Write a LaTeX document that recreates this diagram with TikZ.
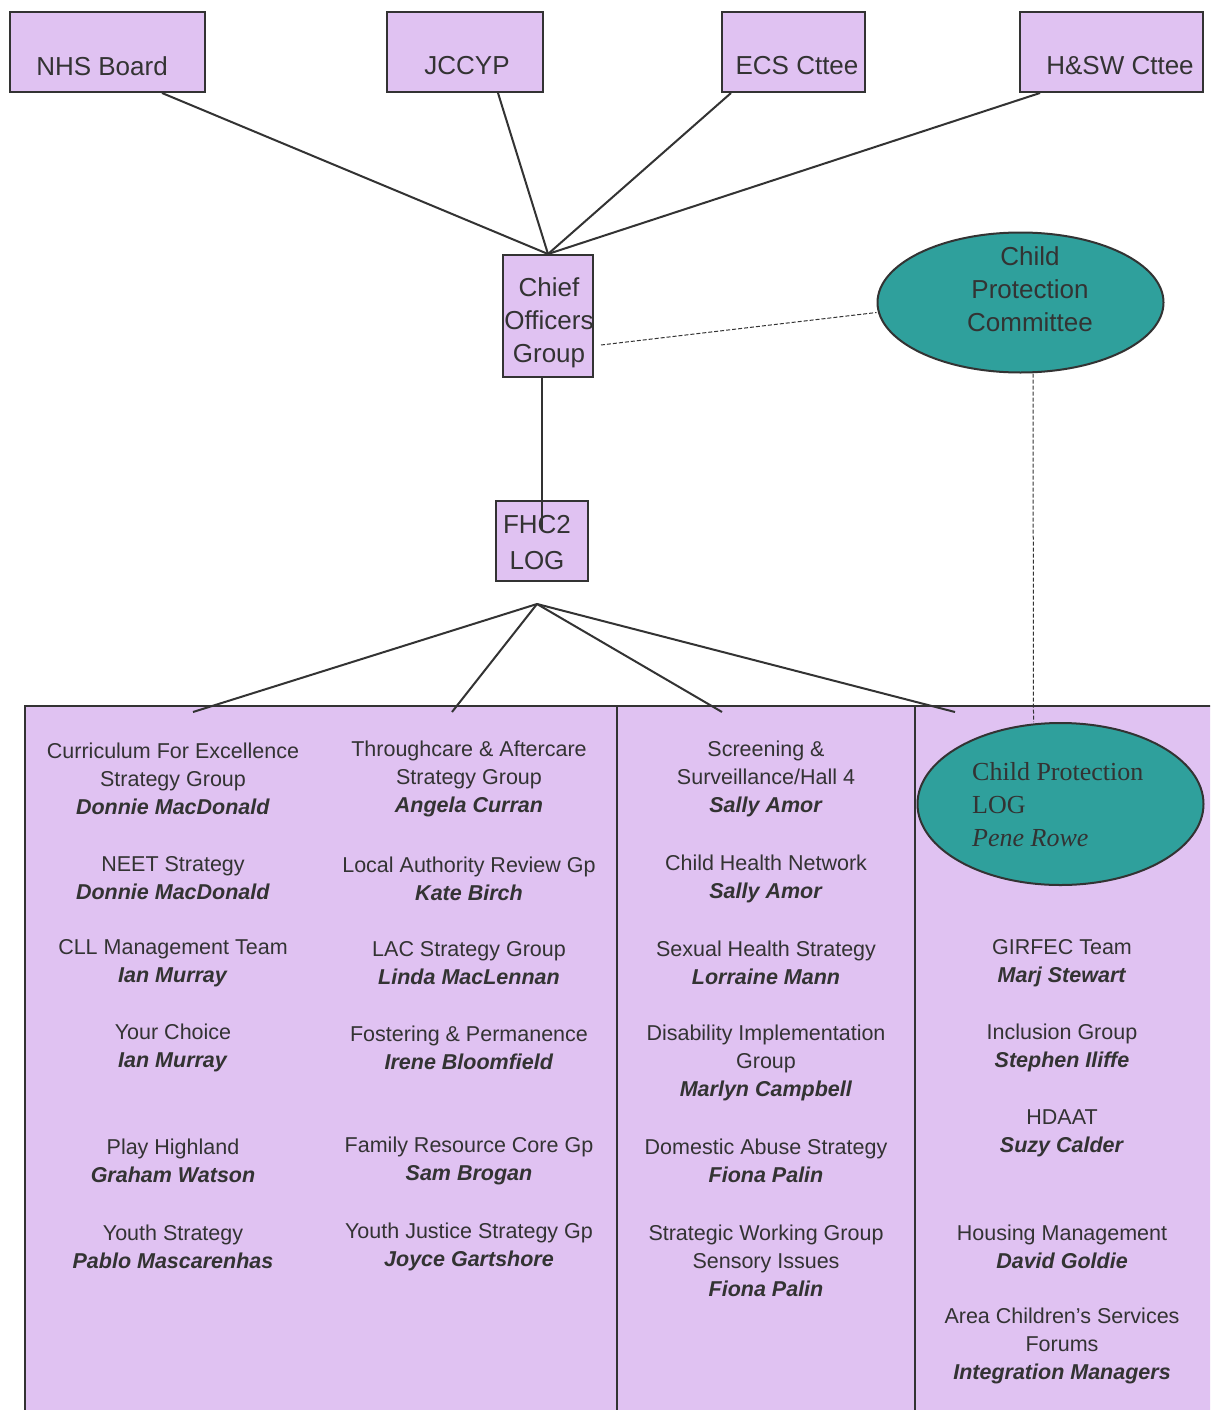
\documentclass[tikz,border=0pt]{standalone}
\usepackage{fontspec}
\setmainfont{Liberation Sans}
\newfontfamily\slabfont{Liberation Serif}
\usetikzlibrary{shapes.geometric}
\definecolor{lilac}{HTML}{E0C2F2}
\definecolor{tealfill}{HTML}{2FA09C}
\definecolor{ink}{HTML}{333333}
\newcommand\pname[1]{\textbf{\textit{#1}}}
\begin{document}
\begin{tikzpicture}[x=1pt,y=-1pt,
  boxst/.style={draw=ink, line width=2pt, fill=lilac, inner sep=0pt},
  lnk/.style={draw=ink, line width=2pt},
  dsh/.style={draw=ink, line width=1pt, dash pattern=on 4pt off 2pt},
  lbl/.style={text=ink, font=\fontsize{26}{33}\selectfont, align=center, inner sep=0pt},
  col/.style={text=ink, font=\fontsize{21.5}{28}\selectfont, align=center, inner sep=0pt},
  ov/.style={ellipse, draw=ink, line width=2pt, fill=tealfill, inner sep=0pt}]
\useasboundingbox (0,0) rectangle (1210,1410);
\clip (0,0) rectangle (1210,1410);
\fill[white] (0,0) rectangle (1210,1410);

% top boxes
\node[boxst, minimum width=195pt, minimum height=80pt] (nhs) at (107.5,52) {};
\node[lbl] (nhsT) at (102,66) {NHS Board};
\node[boxst, minimum width=156pt, minimum height=80pt] (jcc) at (465,52) {};
\node[lbl] (jccT) at (467,66) {JCCYP};
\node[boxst, minimum width=143pt, minimum height=80pt] (ecs) at (793.5,52) {};
\node[lbl] (ecsT) at (797,66) {ECS Cttee};
\node[boxst, minimum width=183pt, minimum height=80pt] (hsw) at (1111.5,52) {};
\node[lbl] (hswT) at (1120,66) {H\&SW Cttee};

% chief officers group
\node[boxst, minimum width=90pt, minimum height=122pt] (cog) at (548,316) {};
\node[lbl] (cogT) at (549,323) {Chief\\Officers\\Group};

% CPC ellipse
\node[ov, minimum width=286pt, minimum height=140pt] (cpc) at (1020.5,302.5) {};
\node[lbl] (cpcT) at (1030,289) {Child\\Protection\\Committee};

% FHC2
\node[boxst, minimum width=92pt, minimum height=80pt] (fhc) at (542,541) {};
\node[lbl, font=\fontsize{26}{36}\selectfont] (fhcT) at (537,543) {FHC2\\LOG};

% links top
\draw[lnk] ([xshift=54.5pt]nhs.south) -- (cog.north);
\draw[lnk] ([xshift=33pt]jcc.south) -- (cog.north);
\draw[lnk] ([xshift=-62.5pt]ecs.south) -- (cog.north);
\draw[lnk] ([xshift=-71.5pt]hsw.south) -- (cog.north);
\draw[lnk] ([xshift=-6pt]cog.south) -- ([yshift=-29pt]fhc.north);

% big panel
\draw[boxst] (25,706) rectangle (1230,1430);
\draw[lnk] (617,706) -- (617,1430);
\draw[lnk] (915,706) -- (915,1430);

% fan
\coordinate (fan) at (537,604);
\coordinate (f1) at (193,712);
\coordinate (f2) at (452,712);
\coordinate (f3) at (722,712);
\coordinate (f4) at (955,712);
\draw[lnk] (fan) -- (f1);
\draw[lnk] (fan) -- (f2);
\draw[lnk] (fan) -- (f3);
\draw[lnk] (fan) -- (f4);

% lower ellipse
\node[ov, minimum width=286pt, minimum height=162pt] (cpl) at (1060.5,804) {};
\node[text=ink, font=\slabfont\fontsize{26}{33}\selectfont, align=left, inner sep=0pt, anchor=west] (cplT) at (972,805) {Child Protection\\LOG\\\textit{Pene Rowe}};

% dashed links
\draw[dsh] ([xshift=7pt,yshift=-29pt]cog.east) -- ([yshift=-10pt]cpc.west);
\draw[dsh] ([xshift=12.5pt]cpc.south) -- ([xshift=-27pt]cpl.north);

% column 1
\node[col] (a1) at (173,779) {Curriculum For Excellence\\Strategy Group\\\pname{Donnie MacDonald}};
\node[col] (a2) at (173,878.5) {NEET Strategy\\\pname{Donnie MacDonald}};
\node[col] (a3) at (173,963) {CLL Management Team\\\pname{Ian Murray}};
\node[col] (a4) at (173,1048) {Your Choice\\\pname{Ian Murray}};
\node[col] (a5) at (173,1161) {Play Highland\\\pname{Graham Watson}};
\node[col] (a6) at (173,1247) {Youth Strategy\\\pname{Pablo Mascarenhas}};

% column 2
\node[col] (b1) at (469,779) {Throughcare \& Aftercare\\Strategy Group\\\pname{Angela Curran}};
\node[col] (b2) at (469,878.5) {Local Authority Review Gp\\\pname{Kate Birch}};
\node[col] (b3) at (469,963) {LAC Strategy Group\\\pname{Linda MacLennan}};
\node[col] (b4) at (469,1048) {Fostering \& Permanence\\\pname{Irene Bloomfield}};
\node[col] (b5) at (469,1161) {Family Resource Core Gp\\\pname{Sam Brogan}};
\node[col] (b6) at (469,1247) {Youth Justice Strategy Gp\\\pname{Joyce Gartshore}};

% column 3
\node[col] (c1) at (766,779) {Screening \&\\Surveillance/Hall 4\\\pname{Sally Amor}};
\node[col] (c2) at (766,878.5) {Child Health Network\\\pname{Sally Amor}};
\node[col] (c3) at (766,963) {Sexual Health Strategy\\\pname{Lorraine Mann}};
\node[col] (c4) at (766,1063) {Disability Implementation\\Group\\\pname{Marlyn Campbell}};
\node[col] (c5) at (766,1161) {Domestic Abuse Strategy\\\pname{Fiona Palin}};
\node[col] (c6) at (766,1261) {Strategic Working Group\\Sensory Issues\\\pname{Fiona Palin}};

% column 4
\node[col] (d1) at (1062,963) {GIRFEC Team\\\pname{Marj Stewart}};
\node[col] (d2) at (1062,1048) {Inclusion Group\\\pname{Stephen Iliffe}};
\node[col] (d3) at (1062,1133) {HDAAT\\\pname{Suzy Calder}};
\node[col] (d4) at (1062,1247) {Housing Management\\\pname{David Goldie}};
\node[col] (d5) at (1062,1346) {Area Children's Services\\Forums\\\pname{Integration Managers}};
\end{tikzpicture}
\end{document}
